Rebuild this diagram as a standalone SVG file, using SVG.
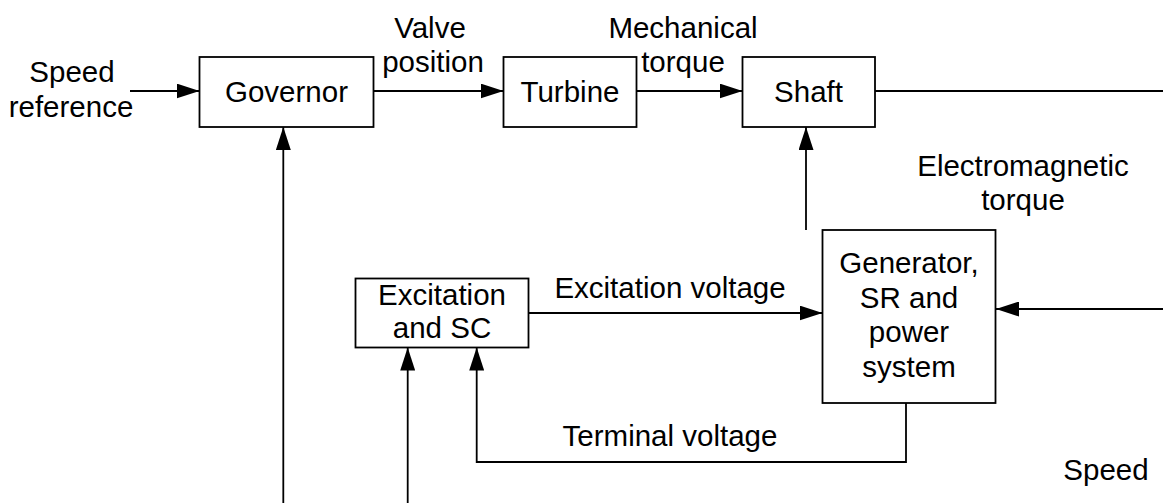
<svg xmlns="http://www.w3.org/2000/svg" width="1163" height="503" viewBox="0 0 1163 503">
<style>
.box{fill:#fff;stroke:#000;stroke-width:1.8}
.ln{fill:none;stroke:#000;stroke-width:1.8}
text{font-family:"Liberation Sans",Arial,sans-serif;font-size:29.5px;fill:#000;text-anchor:middle}
</style>
<defs>
<marker id="ah" viewBox="0 0 23 15" refX="23" refY="7.5" markerWidth="23" markerHeight="15" markerUnits="userSpaceOnUse" orient="auto">
<path d="M0,0 L23,7.5 L0,15 z" fill="#000"/>
</marker>
</defs>
<rect width="1163" height="503" fill="#fff"/>
<g id="connectors">
<line class="ln" x1="130" y1="91" x2="199.5" y2="91" marker-end="url(#ah)"/>
<line class="ln" x1="373.5" y1="91" x2="503.5" y2="91" marker-end="url(#ah)"/>
<line class="ln" x1="636.5" y1="91" x2="742.5" y2="91" marker-end="url(#ah)"/>
<line class="ln" x1="875" y1="91" x2="1163" y2="91"/>
<line class="ln" x1="806" y1="230" x2="806" y2="127" marker-end="url(#ah)"/>
<line class="ln" x1="1163" y1="309" x2="996" y2="309" marker-end="url(#ah)"/>
<line class="ln" x1="528.5" y1="313" x2="822.5" y2="313" marker-end="url(#ah)"/>
<polyline class="ln" points="906,403 906,462 476.7,462 476.7,347.5" marker-end="url(#ah)"/>
<line class="ln" x1="283.3" y1="503" x2="283.3" y2="127" marker-end="url(#ah)"/>
<line class="ln" x1="407.7" y1="503" x2="407.7" y2="347.5" marker-end="url(#ah)"/>
<text x="72" y="82">Speed</text>
<text x="71" y="117">reference</text>
<text x="430" y="38">Valve</text>
<text x="433" y="72">position</text>
<text x="683" y="38">Mechanical</text>
<text x="683" y="72">torque</text>
<text x="1023" y="176">Electromagnetic</text>
<text x="1023" y="210">torque</text>
<text x="670" y="298">Excitation voltage</text>
<text x="670" y="446">Terminal voltage</text>
<text x="1106" y="480">Speed</text>
</g>
<g id="governor">
<rect class="box" x="199.5" y="57" width="174" height="70"/>
<text x="286.5" y="102">Governor</text>
</g>
<g id="turbine">
<rect class="box" x="503.5" y="57" width="133" height="70"/>
<text x="570" y="102">Turbine</text>
</g>
<g id="shaft">
<rect class="box" x="742.5" y="57" width="132.5" height="70"/>
<text x="808.5" y="102">Shaft</text>
</g>
<g id="excitation">
<rect class="box" x="355.5" y="278.5" width="173" height="69"/>
<text x="442" y="305">Excitation</text>
<text x="442" y="338">and SC</text>
</g>
<g id="generator">
<rect class="box" x="822.5" y="230" width="173" height="173"/>
<text x="909" y="273">Generator,</text>
<text x="909" y="307.5">SR and</text>
<text x="909" y="342">power</text>
<text x="909" y="376.5">system</text>
</g>
</svg>
